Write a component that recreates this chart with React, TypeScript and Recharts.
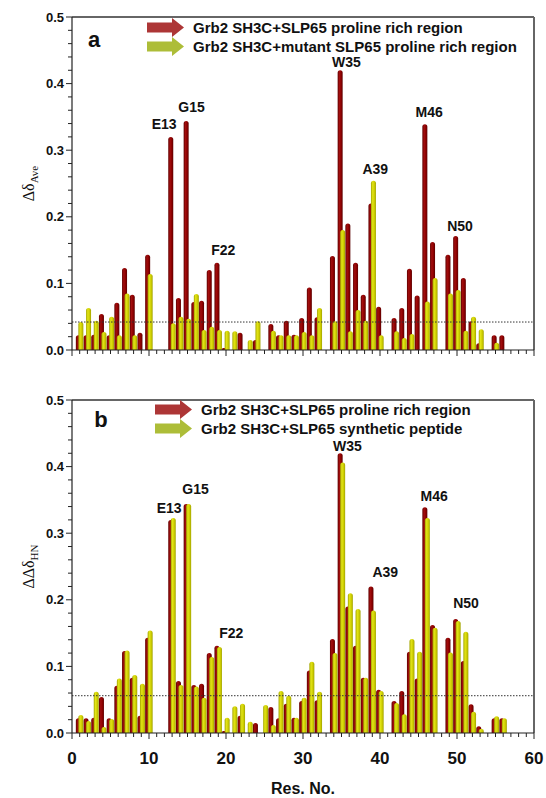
import React from 'react';
import { BarChart, Bar, XAxis, YAxis, ReferenceLine, ReferenceDot, Legend } from 'recharts';

const residues = [
  1, 2, 3, 4, 5, 6, 7, 8, 9, 10, 11, 12, 13, 14, 15, 16, 17, 18, 19, 20,
  21, 22, 23, 24, 25, 26, 27, 28, 29, 30, 31, 32, 33, 34, 35, 36, 37, 38, 39, 40,
  41, 42, 43, 44, 45, 46, 47, 48, 49, 50, 51, 52, 53, 54, 55, 56,
];

// Grb2 SH3C + SLP65 proline rich region (dark red, same in both panels)
const slp65Proline = [
  0.022, 0.022, 0.023, 0.054, 0.022, 0.071, 0.123, 0.083, 0.026, 0.143,
  null, null, 0.32, 0.078, 0.344, 0.072, 0.074, 0.12, 0.131, 0.003,
  null, 0.026, null, 0.015, null, 0.039, 0.022, 0.044, 0.023, 0.048,
  0.094, 0.049, null, 0.141, 0.42, 0.19, 0.131, 0.083, 0.22, 0.065,
  null, 0.048, 0.063, 0.122, 0.082, 0.339, 0.162, null, 0.143, 0.171,
  0.108, 0.043, 0.01, null, 0.022, 0.022,
];

// panel a: mutant SLP65 proline rich region
const mutantProline = [
  0.042, 0.063, 0.044, 0.027, 0.05, 0.022, 0.085, 0.022, null, 0.114,
  null, null, 0.04, 0.05, 0.047, 0.084, 0.03, 0.035, 0.03, 0.029,
  0.028, null, 0.015, 0.043, null, 0.029, 0.022, 0.022, 0.022, 0.027,
  0.022, 0.063, null, 0.043, 0.18, 0.028, 0.06, 0.044, 0.254, 0.022,
  null, 0.028, 0.018, 0.024, null, 0.073, 0.108, null, 0.085, 0.09,
  0.029, 0.05, 0.031, null, 0.011, null,
];

// panel b: SLP65 synthetic peptide
const syntheticPeptide = [
  0.027, 0.018, 0.062, 0.009, 0.021, 0.082, 0.124, 0.087, 0.074, 0.154,
  null, null, 0.323, 0.072, 0.344, 0.07, 0.053, 0.114, 0.129, 0.023,
  0.04, 0.044, 0.017, null, 0.042, 0.012, 0.063, 0.056, 0.023, 0.053,
  0.107, 0.062, null, 0.12, 0.406, 0.21, 0.186, 0.083, 0.184, 0.063,
  null, 0.045, 0.028, 0.141, 0.122, 0.323, 0.158, null, 0.121, 0.168,
  0.152, 0.032, 0.006, null, 0.025, 0.022,
];

const thresholdA = 0.042;
const thresholdB = 0.056;

const xMajorTicks = [0, 10, 20, 30, 40, 50, 60];
const yMajorTicks = [0, 0.1, 0.2, 0.3, 0.4, 0.5];

const peakLabels = [
  { res: 13, text: 'E13' },
  { res: 15, text: 'G15' },
  { res: 19, text: 'F22' },
  { res: 35, text: 'W35' },
  { res: 39, text: 'A39' },
  { res: 46, text: 'M46' },
  { res: 50, text: 'N50' },
];

const legendA = ['Grb2 SH3C+SLP65 proline rich region', 'Grb2 SH3C+mutant SLP65 proline rich region'];
const legendB = ['Grb2 SH3C+SLP65 proline rich region', 'Grb2 SH3C+SLP65 synthetic peptide'];

// minor ticks between the majors
const subdivide = (majors: number[], parts: number) => {
  const out: number[] = [];
  for (let i = 0; i < majors.length - 1; i++) {
    const step = (majors[i + 1] - majors[i]) / parts;
    for (let k = 0; k < parts; k++) out.push(Math.round((majors[i] + k * step) * 1000) / 1000);
  }
  out.push(majors[majors.length - 1]);
  return out;
};
const xTicks = subdivide(xMajorTicks, 10);
const yTicks = subdivide(yMajorTicks, 5);

const FONT = '"Liberation Sans", Arial, sans-serif';
const ARROW_COLORS = ['#ad3636', '#adbd38'];

// label nudges [dx, dy to text centre] relative to the peak top
const nudgeA: Record<string, number[]> = {
  E13: [-8, -13], G15: [4, -14], F22: [5, -13], W35: [5, -8], A39: [3, -12], M46: [3, -12], N50: [3, -10],
};
const nudgeB: Record<string, number[]> = {
  E13: [-3, -10], G15: [8, -15], F22: [13, -13], W35: [6, -7], A39: [13, -14], M46: [8, -11], N50: [9, -16],
};

function XTick(props: any) {
  const { x, y, payload, showLabel } = props;
  const major = payload.value % 10 === 0;
  return (
    <g>
      <line x1={x} y1={y} x2={x} y2={y + (major ? 6 : 4)} stroke="#222" strokeWidth={1} />
      {showLabel && major && (
        <text x={x} y={y + 31} textAnchor="middle" fontFamily={FONT} fontWeight="bold" fontSize={17} fill="#111">
          {payload.value}
        </text>
      )}
    </g>
  );
}

function YTick(props: any) {
  const { x, y, payload } = props;
  const v = payload.value;
  const major = Math.abs(v * 10 - Math.round(v * 10)) < 1e-6;
  return (
    <g>
      <line x1={x} y1={y} x2={x - (major ? 6 : 4)} y2={y} stroke="#222" strokeWidth={1} />
      {major && (
        <text x={x - 8} y={y + 4.5} textAnchor="end" fontFamily={FONT} fontWeight="bold" fontSize={13} fill="#111">
          {v.toFixed(1)}
        </text>
      )}
    </g>
  );
}

function YTitle(props: any) {
  const { viewBox, main, sub } = props;
  const cx = viewBox.x + 22;
  const cy = viewBox.y + viewBox.height / 2;
  return (
    <text x={cx} y={cy} transform={`rotate(-90, ${cx}, ${cy})`} textAnchor="middle"
      fontFamily='"Liberation Serif", serif' fontSize={16} fill="#111">
      {main}
      <tspan fontSize={11} dy={4}>{sub}</tspan>
    </text>
  );
}

function XTitle(props: any) {
  const { viewBox } = props;
  return (
    <text x={viewBox.x + viewBox.width / 2} y={viewBox.y + 61} textAnchor="middle"
      fontFamily={FONT} fontWeight="bold" fontSize={16} fill="#111">
      Res. No.
    </text>
  );
}

function PeakLabel(props: any) {
  const { viewBox, text, nudge } = props;
  return (
    <text x={viewBox.x + nudge[0]} y={viewBox.y + nudge[1] + 5} textAnchor="middle"
      fontFamily={FONT} fontWeight="bold" fontSize={14} fill="#111">
      {text}
    </text>
  );
}

function ArrowLegend({ names }: { names: string[] }) {
  return (
    <div style={{ fontFamily: FONT, fontWeight: 'bold', fontSize: 15, color: '#111' }}>
      {names.map((n, i) => (
        <div key={n} style={{ display: 'flex', alignItems: 'center', height: 19, whiteSpace: 'nowrap' }}>
          <svg width={37} height={19} style={{ display: 'block' }}>
            <polygon points="0,4.5 25,4.5 25,0 37,9.5 25,19 25,14.5 0,14.5" fill={ARROW_COLORS[i]} />
          </svg>
          <span style={{ marginLeft: 9 }}>{n}</span>
        </div>
      ))}
    </div>
  );
}

interface PanelProps {
  id: string;
  second: (number | null)[];
  names: string[];
  threshold: number;
  nudge: Record<string, number[]>;
  height: number;
  showX: boolean;
  yMain: string;
  ySub: string;
  legendLeft: number;
  legendTop: number;
  letterX: number;
  letterY: number;
}

function Panel(p: PanelProps) {
  const data = residues.map((r, i) => ({ res: r, first: slp65Proline[i], second: p.second[i] }));
  return (
    <BarChart width={546} height={p.height} data={data} margin={{ top: 17, right: 12, bottom: 0, left: 12 }}
      barSize={5} barGap={-2.5}>
      <defs>
        <linearGradient id={`red-${p.id}`} x1="0" y1="0" x2="1" y2="0">
          <stop offset="0%" stopColor="#5e0000" />
          <stop offset="35%" stopColor="#a30e0e" />
          <stop offset="70%" stopColor="#8b0000" />
          <stop offset="100%" stopColor="#5a0000" />
        </linearGradient>
        <linearGradient id={`yel-${p.id}`} x1="0" y1="0" x2="1" y2="0">
          <stop offset="0%" stopColor="#a2a400" />
          <stop offset="35%" stopColor="#e2e416" />
          <stop offset="70%" stopColor="#cccc00" />
          <stop offset="100%" stopColor="#a0a200" />
        </linearGradient>
      </defs>
      <XAxis type="number" dataKey="res" domain={[0, 60]} ticks={xTicks} interval={0}
        tickSize={0} tickMargin={0} tickLine={false} height={p.height - 17 - 333}
        tick={<XTick showLabel={p.showX} />} axisLine={{ stroke: '#222', strokeWidth: 1.2 }}
        label={p.showX ? <XTitle /> : undefined} />
      <YAxis type="number" domain={[0, 0.5]} ticks={yTicks} interval={0} width={60}
        tickSize={0} tickMargin={0} tickLine={false} tick={<YTick />}
        axisLine={{ stroke: '#222', strokeWidth: 1.2 }} allowDataOverflow
        label={<YTitle main={p.yMain} sub={p.ySub} />} />
      <ReferenceLine y={0.5} stroke="#666" strokeWidth={2} />
      <ReferenceLine x={60} stroke="#666" strokeWidth={2} />
      <Bar dataKey="first" name={p.names[0]} fill={`url(#red-${p.id})`} radius={[2.5, 2.5, 0, 0]} isAnimationActive={false} />
      <Bar dataKey="second" name={p.names[1]} fill={`url(#yel-${p.id})`} radius={[2.5, 2.5, 0, 0]} isAnimationActive={false} />
      <ReferenceLine y={p.threshold} stroke="#333" strokeWidth={1} strokeDasharray="1.5 1.5" />
      {peakLabels.map((pk) => {
        const i = residues.indexOf(pk.res);
        const top = Math.max(slp65Proline[i] ?? 0, p.second[i] ?? 0);
        return (
          <ReferenceDot key={pk.text} x={pk.res} y={top} r={0} fill="none" stroke="none"
            label={<PeakLabel text={pk.text} nudge={p.nudge[pk.text]} />} />
        );
      })}
      <Legend layout="vertical" align="center" verticalAlign="middle"
        wrapperStyle={{ top: p.legendTop, left: p.legendLeft, width: 420 }}
        content={() => <ArrowLegend names={p.names} />} />
      <text x={p.letterX} y={p.letterY} textAnchor="middle" fontFamily={FONT} fontWeight="bold" fontSize={22} fill="#111">
        {p.id}
      </text>
    </BarChart>
  );
}

export default function App() {
  return (
    <div style={{ position: 'absolute', left: 0, top: 0, width: 546, height: 798, background: '#fff' }}>
      <div style={{ position: 'absolute', left: 0, top: 0 }}>
        <Panel id="a" second={mutantProline} names={legendA} threshold={thresholdA} nudge={nudgeA}
          height={380} showX={false} yMain="Δδ" ySub="Ave" legendLeft={147} legendTop={18}
          letterX={94} letterY={47} />
      </div>
      <div style={{ position: 'absolute', left: 0, top: 383 }}>
        <Panel id="b" second={syntheticPeptide} names={legendB} threshold={thresholdB} nudge={nudgeB}
          height={415} showX={true} yMain="ΔΔδ" ySub="HN" legendLeft={155} legendTop={17}
          letterX={101} letterY={44} />
      </div>
    </div>
  );
}
